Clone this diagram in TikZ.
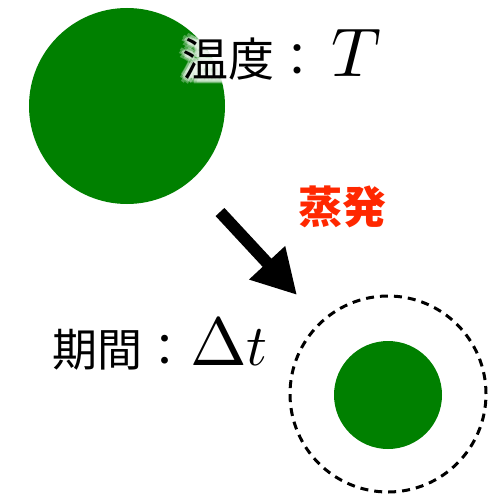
\documentclass[tikz,border=0pt]{standalone}
\usepackage{fontspec}
\newfontfamily\jp{Noto Sans CJK JP}
\usetikzlibrary{arrows.meta,calc}
\definecolor{myg}{RGB}{0,128,0}
\definecolor{myred}{RGB}{255,40,0}
\font\Tfont=cmmi10 at 69pt
\font\Dfont=cmr10 at 68pt
\font\tfont=cmmi10 at 58pt
\newcommand{\tempjp}{{\jp\fontsize{46}{46}\selectfont 温度：}}
\tikzset{
  lbl/.style={anchor=base west, inner sep=0pt, outer sep=0pt},
  disc/.style={circle, fill=myg, inner sep=0pt},
  glow/.style={lbl, text=white, opacity=0.3}
}
\begin{document}
\begin{tikzpicture}[x=1pt,y=-1pt]
\useasboundingbox (0,0) rectangle (488,494);
\fill[white] (0,0) rectangle (488,494);
\node[disc, minimum size=196pt] (big) at (127,106) {};
\node[disc, minimum size=108pt] (small) at (388,395) {};
\node[circle, draw, dashed, dash pattern=on 8pt off 6pt, line width=3pt, minimum size=196pt, inner sep=0pt] (ring) at (388,394) {};
% glow
\foreach \a in {0,45,...,315}{
  \node[glow] (g1\a) at ($(182,77)+(\a:5)$) {\tempjp};
  \node[glow] (g2\a) at ($(182,77)+(\a:2.5)$) {\tempjp};
}
\node[lbl] (temp) at (182,77) {\tempjp};
\node[lbl] (Tsym) at (331,77) {\Tfont T};
\node[lbl, text=myred] (evap) at (298,223) {\jp\bfseries\fontsize{44}{44}\selectfont 蒸発};
\node[lbl] (dur) at (52,366) {\jp\fontsize{45}{45}\selectfont 期間：};
\node[lbl] (dt) at (190,365) {{\Dfont\char1}{\tfont t}};
\coordinate (a1) at (220,212);
\coordinate (a2) at (297,295);
\draw[line width=12pt, -{Triangle[length=44pt,width=46pt]}] (a1) -- (a2);
\end{tikzpicture}
\end{document}
